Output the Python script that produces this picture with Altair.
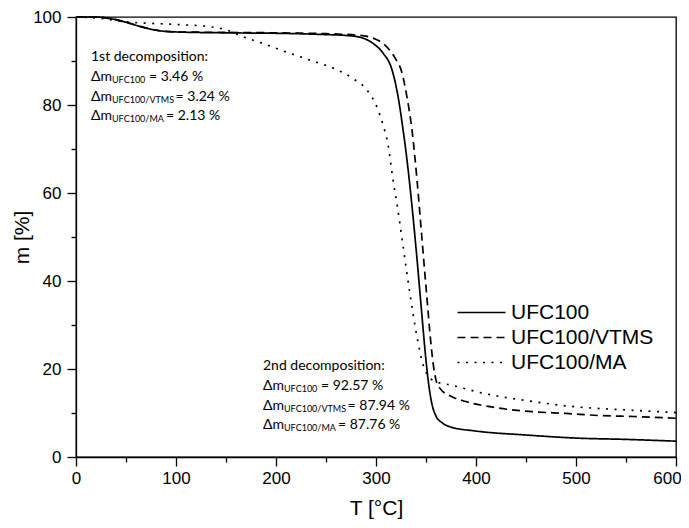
import altair as alt
import pandas as pd

# ---------------- data ----------------
series_names = ["UFC100", "UFC100/VTMS", "UFC100/MA"]

ufc_T = [0, 20, 33, 50, 65, 80, 100, 150, 200, 250, 270, 284, 297, 307, 316, 322, 327, 331, 336, 341,
         346, 350, 353, 356, 360, 366, 375, 400, 450, 500, 550, 600]
ufc_m = [100, 100, 99.7, 98.8, 97.8, 97.0, 96.6, 96.4, 96.3, 96.0, 95.8, 95.4, 94.0, 91.8, 88.0, 82.0, 74.5, 67.5, 57.0, 45.0,
         32.0, 22.0, 16.0, 12.0, 9.3, 7.8, 6.8, 5.9, 5.0, 4.3, 4.0, 3.6]

vtms_T = [0, 20, 33, 50, 65, 80, 100, 150, 200, 250, 280, 297, 309, 319, 326, 331, 336, 341, 344, 348,
          351, 354, 357, 360, 364, 374, 390, 423, 457, 490, 525, 558, 600]
vtms_m = [100, 100, 99.7, 98.8, 97.8, 97.0, 96.6, 96.5, 96.4, 96.2, 95.9, 95.2, 93.6, 90.7, 87.3, 81.8, 74.3, 63.0, 55.0, 44.0,
          36.0, 28.0, 21.5, 17.5, 15.6, 13.9, 12.6, 11.1, 10.3, 9.9, 9.4, 9.2, 8.8]

ma_T = [0, 20, 50, 100, 133, 150, 165, 189, 207, 234, 261, 277, 291, 301, 307, 312, 317, 321, 327, 334,
        341, 347, 353, 360, 374, 407, 457, 500, 550, 600]
ma_m = [100, 99.8, 98.9, 98.3, 97.8, 97.1, 95.7, 93.8, 92.3, 90.2, 88.0, 86.0, 83.4, 79.5, 75.5, 71.0, 63.0, 57.5, 48.0, 37.0,
        27.3, 21.0, 18.2, 17.1, 16.4, 14.5, 12.6, 11.4, 10.7, 10.1]

headers = ["1st decomposition:", "2nd decomposition:"]
subs = ["UFC100", "UFC100/VTMS", "UFC100/MA"]
first_vals = ["= 3.46 %", "= 3.24 %", "= 2.13 %"]
second_vals = ["= 92.57 %", "= 87.94 %", "= 87.76 %"]

x_ticks = list(range(0, 601, 50))
y_ticks = list(range(0, 101, 10))

# annotation anchors (data coordinates)
ann_T = [15, 187]
ann_m = [[90.9, 86.4, 81.8, 77.5], [20.7, 16.1, 11.6, 7.3]]

# ---------------- build table ----------------
rows = []
for name, ts, ms in zip(series_names, [ufc_T, vtms_T, ma_T], [ufc_m, vtms_m, ma_m]):
    for t, m in zip(ts, ms):
        rows.append({"T": t, "m": m, "series": name})
df = pd.DataFrame(rows)

x_scale = alt.Scale(domain=[0, 600], nice=False, zero=False)
y_scale = alt.Scale(domain=[0, 100], nice=False)

AX_FONT = "Liberation Sans"
ANN_FONT = "Lato"
ANN_SIZE = 14
SUB_SIZE = 9

x_axis = alt.Axis(
    values=x_ticks,
    labelExpr="datum.value % 100 === 0 ? datum.label : ''",
    tickSize={"condition": {"test": "datum.value % 100 === 0", "value": 9}, "value": 5},
    labelOffset={"condition": {"test": "datum.value === 600", "value": -9}, "value": 0},
    labelOverlap=False, labelFlush=False, grid=False,
    title="T [°C]", titleFont=AX_FONT, titleFontSize=21, titleFontWeight="normal",
    titleColor="black", titleY=57, titleBaseline="alphabetic",
    labelFont=AX_FONT, labelFontSize=17, labelColor="black", labelPadding=4,
    domainColor="black", domainWidth=1.3, tickColor="black", tickWidth=1.3,
)
y_axis = alt.Axis(
    values=y_ticks,
    labelExpr="datum.value % 20 === 0 ? datum.label : ''",
    tickSize={"condition": {"test": "datum.value % 20 === 0", "value": 9}, "value": 5},
    labelOverlap=False, labelFlush=False, grid=False,
    title="m [%]", titleFont=AX_FONT, titleFontSize=21, titleFontWeight="normal",
    titleColor="black", titleX=-54, titleY=220, titleAngle=-90,
    titleAlign="center", titleBaseline="middle",
    labelFont=AX_FONT, labelFontSize=17, labelColor="black", labelPadding=6,
    domainColor="black", domainWidth=1.3, tickColor="black", tickWidth=1.3,
)

lines = alt.Chart(df).mark_line(interpolate="monotone", color="black", strokeWidth=1.7, strokeCap="butt").encode(
    x=alt.X("T:Q", scale=x_scale, axis=x_axis),
    y=alt.Y("m:Q", scale=y_scale, axis=y_axis),
    strokeDash=alt.StrokeDash(
        "series:N",
        scale=alt.Scale(domain=series_names, range=[[1, 0], [8, 5], [2, 6.5]]),
        sort=series_names,
        legend=alt.Legend(
            title=None, orient="none", legendX=413, legendY=285,
            symbolType="M -7 0 L 1 0", symbolSize=144,
            symbolStrokeColor="black", symbolStrokeWidth=1.7,
            labelFont=AX_FONT, labelFontSize=21, labelColor="black",
            labelOffset=1, rowPadding=3, padding=0,
        ),
    ),
    order=alt.Order("T:Q"),
)

layers = [lines]


def txt(data, field, dx=0, dy=0, size=ANN_SIZE):
    return alt.Chart(data).mark_text(
        align="left", baseline="middle", font=ANN_FONT, fontSize=size,
        dx=dx, dy=dy, color="black"
    ).encode(
        x=alt.X("T:Q", scale=x_scale, axis=x_axis),
        y=alt.Y("m:Q", scale=y_scale, axis=y_axis),
        text=alt.Text(f"{field}:N"),
    )


# approximate advance widths (em) of Lato capitals / digits for subscript placement
em = {"U": .70, "F": .56, "C": .66, "1": .58, "0": .58, "/": .38,
      "V": .66, "T": .56, "M": .86, "S": .50, "A": .66}
DM_W = 21

for k, (hdr, vals) in enumerate(zip(headers, [first_vals, second_vals])):
    layers.append(txt(pd.DataFrame({"T": [ann_T[k]], "m": [ann_m[k][0]], "s": [hdr]}), "s"))
    for i, (sub, val) in enumerate(zip(subs, vals)):
        d = pd.DataFrame({"T": [ann_T[k]], "m": [ann_m[k][i + 1]], "dm": ["Δm"], "sub": [sub], "val": [val]})
        sub_w = sum(em.get(c, .6) for c in sub) * SUB_SIZE
        layers.append(txt(d, "dm"))
        layers.append(txt(d, "sub", dx=DM_W, dy=3, size=SUB_SIZE))
        layers.append(txt(d, "val", dx=DM_W + sub_w + 4))

chart = alt.layer(*layers).properties(
    width=600, height=440,
    autosize=alt.AutoSizeParams(type="none"),
    padding={"left": 68, "top": 9, "right": 5, "bottom": 62},
    background="white",
).configure_view(stroke="black", strokeWidth=1.3)

chart.save("out.html", embed_options={"renderer": "svg", "actions": False})
